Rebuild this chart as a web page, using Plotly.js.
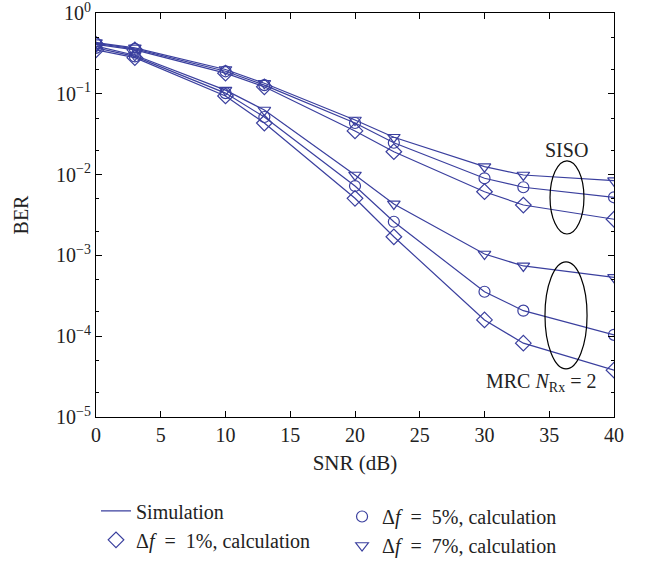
<!DOCTYPE html>
<html>
<head>
<meta charset="utf-8">
<script src="https://cdn.plot.ly/plotly-3.0.1.min.js"></script>
<style>html,body{margin:0;padding:0;background:#fff;}#chart{width:648px;height:563px;}</style>
</head>
<body>
<div id="chart"></div>
<script>
// SNR (dB) sample points
var snr = [0, 3, 10, 13, 20, 23, 30, 33, 40];
// SISO BER
var siso1 = [0.41, 0.35, 0.180, 0.122, 0.0347, 0.0192, 0.00614, 0.0042, 0.0028];
var siso5 = [0.42, 0.36, 0.190, 0.128, 0.0435, 0.0248, 0.0090, 0.00697, 0.00524];
var siso7 = [0.43, 0.37, 0.200, 0.135, 0.0474, 0.0290, 0.01253, 0.00989, 0.0084];
// MRC N_Rx = 2 BER
var mrc1 = [0.35, 0.28, 0.094, 0.0435, 0.00509, 0.0017, 0.000159, 0.000082, 0.000038];
var mrc5 = [0.37, 0.29, 0.102, 0.0516, 0.00722, 0.00261, 0.000355, 0.000207, 0.000104];
var mrc7 = [0.39, 0.30, 0.111, 0.063, 0.00989, 0.00433, 0.00104, 0.00074, 0.000536];
// y tick labels
var yTickVals = [1e-5, 1e-4, 1e-3, 1e-2, 1e-1, 1];
var yTickText = ['10<sup>\u22125</sup>', '10<sup>\u22124</sup>', '10<sup>\u22123</sup>',
                 '10<sup>\u22122</sup>', '10<sup>\u22121</sup>', '10<sup>0</sup>'];

var blue = '#3a3f9e';
var serif = 'Liberation Serif, Times New Roman, serif';

var curves = [siso1, siso5, siso7, mrc1, mrc5, mrc7];
var traces = [];
curves.forEach(function (c, i) {
  traces.push({
    x: snr, y: c, type: 'scatter', mode: 'lines',
    line: {color: blue, width: 1.2},
    name: 'Simulation', showlegend: i === 0, legend: 'legend'
  });
});
function markerTrace(a, b, sym, size, name, leg) {
  return {
    x: snr.concat(snr), y: a.concat(b), type: 'scatter', mode: 'markers',
    marker: {symbol: sym, size: size, color: blue, line: {color: blue, width: 1.2}},
    name: name, legend: leg
  };
}
traces.push(markerTrace(siso1, mrc1, 'diamond-open', 12, '\u0394<i>f</i>  =  1%, calculation', 'legend'));
traces.push(markerTrace(siso5, mrc5, 'circle-open', 11, '\u0394<i>f</i>  =  5%, calculation', 'legend2'));
traces.push(markerTrace(siso7, mrc7, 'triangle-down-open', 11, '\u0394<i>f</i>  =  7%, calculation', 'legend2'));

var layout = {
  width: 648, height: 563,
  margin: {l: 96, r: 34, t: 13, b: 146, autoexpand: false},
  paper_bgcolor: '#fff', plot_bgcolor: '#fff',
  font: {family: serif, size: 20, color: '#222'},
  xaxis: {
    range: [0, 40], dtick: 5, tick0: 0, showgrid: false, zeroline: false,
    ticks: 'inside', ticklen: 6, tickcolor: '#000', showline: true, linecolor: '#000', linewidth: 1,
    mirror: 'ticks', ticklabeloverflow: 'allow', tickfont: {family: serif, size: 20, color: '#222'},
    title: {text: 'SNR (dB)', font: {family: serif, size: 21, color: '#222'}, standoff: 10}
  },
  yaxis: {
    type: 'log', range: [-5, 0], tickvals: yTickVals, ticktext: yTickText,
    showgrid: false, zeroline: false, ticklabeloverflow: 'allow',
    ticks: 'inside', ticklen: 6, tickcolor: '#000',
    minor: {ticks: 'inside', ticklen: 3, tickcolor: '#000', showgrid: false},
    showline: true, linecolor: '#000', linewidth: 1, mirror: 'ticks',
    tickfont: {family: serif, size: 20, color: '#222'},
    title: {text: 'BER', font: {family: serif, size: 20, color: '#222'}, standoff: 22}
  },
  legend: {
    x: 0.0, y: -0.184, xanchor: 'left', yanchor: 'top', orientation: 'v',
    traceorder: 'normal', bgcolor: 'rgba(0,0,0,0)',
    font: {family: serif, size: 20, color: '#222'}
  },
  legend2: {
    x: 0.475, y: -0.198, xanchor: 'left', yanchor: 'top', orientation: 'v',
    traceorder: 'normal', bgcolor: 'rgba(0,0,0,0)',
    font: {family: serif, size: 20, color: '#222'}
  },
  shapes: [
    {type: 'circle', xref: 'x', yref: 'paper', x0: 35.06, x1: 37.68, y0: 0.453, y1: 0.634,
      line: {color: '#000', width: 1.2}},
    {type: 'circle', xref: 'x', yref: 'paper', x0: 34.67, x1: 37.92, y0: 0.119, y1: 0.384,
      line: {color: '#000', width: 1.2}}
  ],
  annotations: [
    {text: 'SISO', xref: 'x', yref: 'paper', x: 36.3, y: 0.661, showarrow: false,
      font: {family: serif, size: 20, color: '#222'}},
    {text: 'MRC <i>N</i><sub>Rx</sub> = 2', xref: 'x', yref: 'paper', x: 34.4, y: 0.05, showarrow: false,
      font: {family: serif, size: 20, color: '#222'}}
  ]
};

Plotly.newPlot('chart', traces, layout, {displayModeBar: false, staticPlot: true});
</script>
</body>
</html>
